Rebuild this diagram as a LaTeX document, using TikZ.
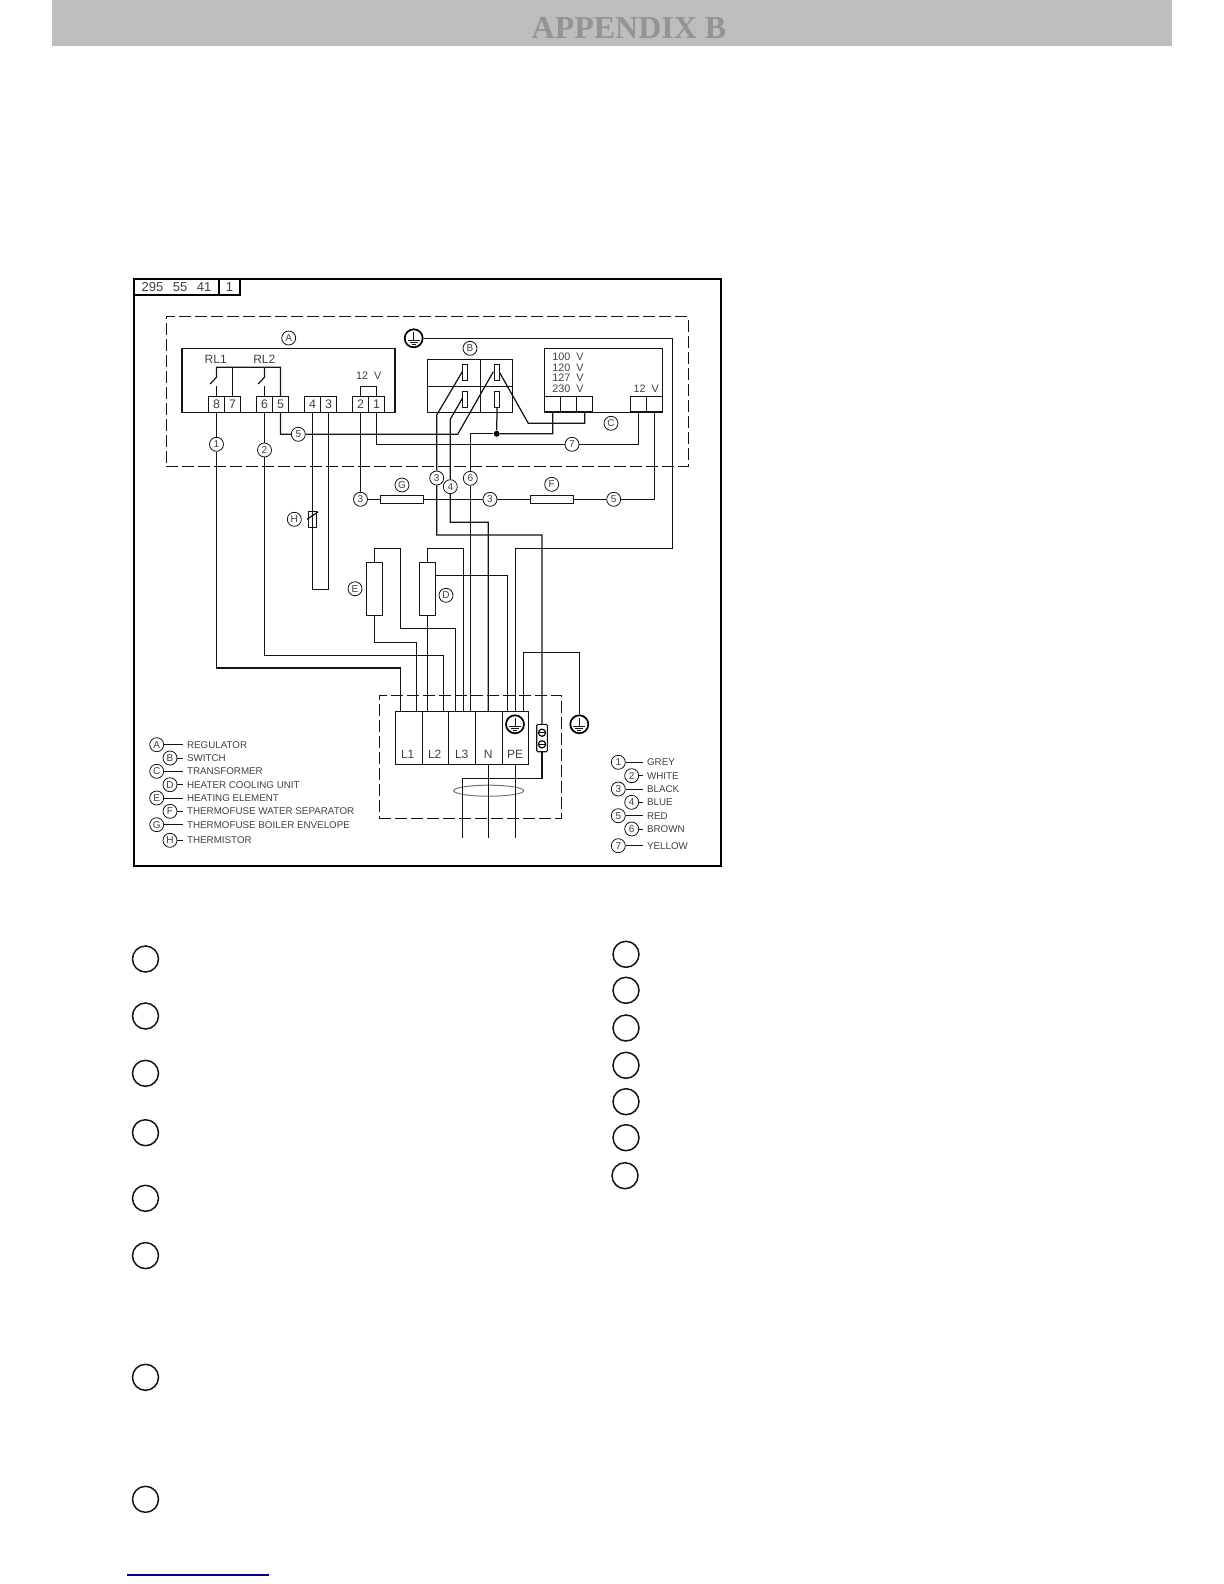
\documentclass[tikz,border=0pt]{standalone}
\usepackage{fontspec}
\newfontfamily\cad{Liberation Sans}
\newfontfamily\headfont{Liberation Serif}
\usetikzlibrary{calc,shapes.geometric}
\definecolor{inkc}{gray}{0.08}
\definecolor{txtc}{gray}{0.25}
\tikzset{
  wire/.style={draw=inkc,line width=0.62pt},
  frameline/.style={draw=black,line width=0.95pt},
  dashbox/.style={draw=inkc,line width=0.5pt,dash pattern=on 6pt off 2pt},
  lbl/.style={circle,draw=inkc,line width=0.4pt,minimum size=7pt,inner sep=0pt,text=txtc,font=\cad\fontsize{5}{5}\selectfont},
  term/.style={rectangle,draw=inkc,line width=0.55pt,minimum width=8pt,minimum height=7.7pt,inner sep=0pt,text=txtc,font=\cad\fontsize{6.2}{6.2}\selectfont},
  blockbox/.style={rectangle,draw=inkc,line width=0.55pt,inner sep=0pt},
  slot/.style={rectangle,draw=inkc,line width=0.5pt,minimum width=2.7pt,minimum height=8pt,inner sep=0pt},
  fuse/.style={rectangle,draw=inkc,line width=0.5pt,minimum width=21.7pt,minimum height=4pt,inner sep=0pt},
  heater/.style={rectangle,draw=inkc,line width=0.55pt,minimum width=8.2pt,minimum height=26.5pt,inner sep=0pt},
  cell/.style={rectangle,draw=inkc,line width=0.55pt,minimum height=26.5pt,inner sep=0pt},
  caption/.style={text=txtc,inner sep=0pt,font=\cad\fontsize{6}{6}\selectfont},
  volts/.style={text=txtc,inner sep=0pt,font=\cad\fontsize{5.4}{5.4}\selectfont},
  legtext/.style={anchor=west,text=txtc,inner sep=1.7pt,font=\cad\fontsize{4.9}{4.9}\selectfont},
  earth/.style={circle,draw=black,line width=0.85pt,minimum size=9pt,inner sep=0pt},
  callout/.style={circle,draw=inkc,line width=0.75pt,minimum size=13pt,inner sep=0pt},
  dot/.style={circle,fill=black,minimum size=3pt,inner sep=0pt},
}
\newcommand{\earthmark}[1]{%
  \draw[line width=0.5pt,draw=inkc] ([shift={(0,-6)}]#1.center) -- ([shift={(0,2.5)}]#1.center)
    ([shift={(-6,2.5)}]#1.center) -- ([shift={(6,2.5)}]#1.center)
    ([shift={(-4,4.5)}]#1.center) -- ([shift={(4,4.5)}]#1.center)
    ([shift={(-2,6.5)}]#1.center) -- ([shift={(2,6.5)}]#1.center);}
\begin{document}
\begin{tikzpicture}[x=0.5pt,y=-0.5pt]
\path[use as bounding box] (0,0) rectangle (1224,1584);

% header band
\node[rectangle,fill=black!26,minimum width=559.8pt,minimum height=23pt,inner sep=0pt] (band) at (612.2,23) {};
\node[text=black!42,inner sep=0pt,font=\headfont\bfseries\fontsize{16}{16}\selectfont] (head) at (629,28) {APPENDIX B};

% outer frame + title block
\node[rectangle,frameline,minimum width=293.5pt,minimum height=293.5pt,inner sep=0pt] (outer) at (427.5,572.5) {};
\node[rectangle,frameline,minimum width=42.5pt,minimum height=8pt,inner sep=0pt,text=txtc,font=\cad\fontsize{6.5}{6.5}\selectfont] (tb1) at (176.5,287) {295\hspace{3pt} 55\hspace{3pt} 41};
\node[rectangle,frameline,minimum width=10.5pt,minimum height=8pt,inner sep=0pt,text=txtc,font=\cad\fontsize{6.5}{6.5}\selectfont] (tb2) at (229.5,287) {1};

% dashed enclosures
\node[rectangle,dashbox,minimum width=261pt,minimum height=74.7pt,inner sep=0pt] (dashA) at (427,391.3) {};
\node[rectangle,dashbox,minimum width=91.2pt,minimum height=61.5pt,inner sep=0pt] (dashT) at (470.5,756.8) {};

% regulator
\node[blockbox,minimum width=106.5pt,minimum height=31.7pt] (reg) at (288.5,380.4) {};
\node[lbl] (la) at (288.7,338) {A};
\node[term] (t8) at (216.5,404.4) {8};
\node[term] (t7) at (232.5,404.4) {7};
\node[term] (t6) at (264.5,404.4) {6};
\node[term] (t5) at (280.5,404.4) {5};
\node[term] (t4) at (312.5,404.4) {4};
\node[term] (t3) at (328.5,404.4) {3};
\node[term] (t2) at (360.5,404.4) {2};
\node[term] (t1) at (376.5,404.4) {1};
\node[caption] (rl1) at (215.7,359.3) {RL1};
\node[caption] (rl2) at (264.3,359.3) {RL2};
\node[volts] (v12a) at (368.7,375.3) {12\hspace{1.5pt} V};
% relay contacts
\coordinate (rlA) at (216.5,367.3);
\coordinate (rlB) at (280.5,367.3);
\coordinate (rlM) at (232.5,367.3);
\coordinate (rlC) at (264.5,367.3);
\draw[wire] (t8.north) -- (216.5,386);
\draw[wire] (210,384) -- (216.5,377.3) -- (rlA) -- (rlB) -- (t5.north);
\draw[wire] (rlM) -- (t7.north);
\draw[wire] (t6.north) -- (264.5,386);
\draw[wire] (258,384) -- (264.5,377.3) -- (rlC);
\draw[wire] (t2.north) |- (376.5,386.7) -- (t1.north);

% earth top
\node[earth] (e1) at (413.7,338.3) {};
\earthmark{e1}

% switch B
\node[blockbox,minimum width=42.5pt,minimum height=26.4pt] (swb) at (469.8,385.7) {};
\draw[wire,line width=0.55pt] (swb.north) ++(10.5,0) coordinate (swbt) -- (swbt |- swb.south);
\draw[wire,line width=0.55pt] (swb.west) ++(0,0.6) coordinate (swbl) -- (swbl -| swb.east);
\node[lbl] (lb) at (470,348.3) {B};
\node[slot] (s1) at (465,372.7) {};
\node[slot] (s2) at (465,399.3) {};
\node[slot] (s3) at (497,372.7) {};
\node[slot] (s4) at (497,399.3) {};

% transformer C
\node[blockbox,minimum width=58.8pt,minimum height=31.7pt] (trf) at (603.5,380.4) {};
\node[lbl] (lc) at (611,423.3) {C};
\node[term] (tc1) at (552.7,404.2) {};
\node[term] (tc2) at (568.7,404.2) {};
\node[term] (tc3) at (584.7,404.2) {};
\node[term] (tc4) at (638.5,404.2) {};
\node[term] (tc5) at (654.5,404.2) {};
\node[volts] (v1) at (568,356.7) {100\hspace{1.5pt} V};
\node[volts] (v2) at (568,367.3) {120\hspace{1.5pt} V};
\node[volts] (v3) at (568,377.7) {127\hspace{1.5pt} V};
\node[volts] (v4) at (568,388.7) {230\hspace{1.5pt} V};
\node[volts] (v5) at (646.3,388.7) {12\hspace{1.5pt} V};

% wire circles
\node[lbl] (c1) at (216.5,444.3) {1};
\node[lbl] (c2) at (264.5,450) {2};
\node[lbl] (c5a) at (298.3,434.3) {5};
\node[lbl] (c7) at (572,444.3) {7};
\node[lbl] (c3a) at (360.5,499.3) {3};
\node[lbl] (c3b) at (490,499.3) {3};
\node[lbl] (c5b) at (613.7,499.3) {5};
\node[lbl] (c3c) at (436.7,478) {3};
\node[lbl] (c4) at (450.3,486.7) {4};
\node[lbl] (c6) at (470.3,478.3) {6};

% fuses
\node[fuse] (fg) at (402,499.3) {};
\node[fuse] (ff) at (552,499.3) {};
\node[lbl] (lg) at (402,485) {G};
\node[lbl] (lf) at (551.7,484.3) {F};

% thermistor
\node[rectangle,draw=inkc,line width=0.55pt,minimum width=4pt,minimum height=8.1pt,inner sep=0pt] (th) at (312.5,519.2) {};
\node[lbl] (lh) at (294.3,519.3) {H};
\draw[wire] (307,519.3) -- (318.3,511.7);

% heaters
\node[heater] (he) at (374.5,588.8) {};
\node[heater] (hd) at (427.5,588.8) {};
\node[lbl] (le) at (355,588.7) {E};
\node[lbl] (ld) at (446,595.3) {D};

% terminal block
\node[cell,minimum width=13.5pt] (L1) at (408.8,737.8) {};
\node[cell,minimum width=13.2pt] (L2) at (435.5,737.8) {};
\node[cell,minimum width=13.5pt] (L3) at (462.2,737.8) {};
\node[cell,minimum width=13.5pt] (Ln) at (489.2,737.8) {};
\node[cell,minimum width=13pt] (Lp) at (515.7,737.8) {};
\node[caption] (tl1) at (407.7,754.3) {L1};
\node[caption] (tl2) at (434.7,754.3) {L2};
\node[caption] (tl3) at (461.7,754.3) {L3};
\node[caption] (tln) at (488.3,754.3) {N};
\node[caption] (tlp) at (515,754.3) {PE};
\node[earth] (e2) at (515,724.3) {};
\earthmark{e2}
\node[earth] (e3) at (579.3,724.3) {};
\earthmark{e3}

% small connector
\node[rectangle,draw=inkc,line width=0.55pt,rounded corners=0.6pt,minimum width=5.3pt,minimum height=13.7pt,inner sep=0pt] (conn) at (542,738) {};
\node[circle,draw=black,line width=0.6pt,minimum size=3.6pt,inner sep=0pt] (k1) at (542,732.7) {};
\node[circle,draw=black,line width=0.6pt,minimum size=3.6pt,inner sep=0pt] (k2) at (542,744.3) {};
\draw[black,line width=0.5pt] (k1.west) -- (k1.east) (k2.west) -- (k2.east);

% cable ring
\node[ellipse,draw=black!55,line width=0.5pt,minimum width=35pt,minimum height=5.5pt,inner sep=0pt] (ring) at (488.7,790.7) {};

% wires
\draw[wire] (t8.south) -- (c1) -- (216.5,668) -- (400.7,668) -- (400.7,711.3);
\draw[wire] (t6.south) -- (c2) -- (264.5,655.7) -- (443.3,655.7) -- (443.3,711.3);
\draw[wire] (t5.south) |- (c5a) -- (457.7,434.3) -- (493.3,371.7);
\draw[wire] (t4.south) |- (328.5,589.3) -- (t3.south);
\draw[wire] (t2.south) -- (c3a) -- (fg) -- (c3b) -- (ff) -- (c5b) -| (tc5.south);
\draw[wire] (t1.south) |- (c7) -| (tc4.south);
\draw[wire] (e1) -- (672.3,338.3) -- (672.3,548.5) -- (515.5,548.5) -- (515.5,711.3);
\draw[wire] (462.3,371.7) -- (436.7,415) -- (c3c) -- (436.7,535) -- (542,535) -- (conn.north);
\draw[wire] (462.3,398.3) -- (450.3,419.3) -- (c4) -- (450.3,522.3) -- (488.3,522.3) -- (488.3,711.3);
\node[dot] (jn) at (496.7,433.8) {};
\draw[wire] (tc1.south) |- (jn) -- (s4.south);
\draw[wire] (jn) -- (470.3,433.8) -- (c6) -- (470.3,711.3);
\draw[wire] (499.7,372.7) -- (528.3,423.3) -| (tc3.south);
\draw[wire] (he.north) |- (400.7,548.3) -- (400.7,628.3) -- (455.7,628.3) -- (455.7,711.3);
\draw[wire] (he.south) |- (416.7,642.3) -- (416.7,711.3);
\draw[wire] (hd.north) |- (463.3,548.3) -- (463.3,711.3);
\draw[wire] (hd.south) -- (427.5,711.3);
\draw[wire] (hd.east |- 0,575.3) -- (507.3,575.3) -- (507.3,711.3);
\draw[wire] (523.7,711.3) -- (523.7,652.7) -| (e3.north);
\draw[wire] (conn.south) |- (462.3,778.3) -- (462.3,838.3);
\draw[wire] (488.3,764.3) -- (488.3,838.3);
\draw[wire] (515.3,764.3) -- (515.3,838.3);

% legend left
\foreach \nm/\ltr/\cx/\cy/\txt in {
  a/A/156.7/744.7/REGULATOR,
  b/B/170/758/SWITCH,
  c/C/156.7/771.3/TRANSFORMER,
  d/D/170/784.7/HEATER COOLING UNIT,
  e/E/156.7/798/HEATING ELEMENT,
  f/F/170/811.3/THERMOFUSE WATER SEPARATOR,
  g/G/156.7/824.7/THERMOFUSE BOILER ENVELOPE,
  h/H/170/840.3/THERMISTOR}{
  \node[lbl] (lk\nm) at (\cx,\cy) {\ltr};
  \node[legtext] (lt\nm) at (183.3,\cy) {\txt};
  \draw[wire,line width=0.45pt] (lk\nm) -- (lt\nm.west);
}
% legend right
\foreach \nm/\ltr/\cx/\cy/\txt in {
  1/1/618.3/762.3/GREY,
  2/2/631.7/775.7/WHITE,
  3/3/618.3/789/BLACK,
  4/4/631.7/802.3/BLUE,
  5/5/618.3/815.7/RED,
  6/6/631.7/829/BROWN,
  7/7/618.3/845.7/YELLOW}{
  \node[lbl] (rk\nm) at (\cx,\cy) {\ltr};
  \node[legtext] (rt\nm) at (643.3,\cy) {\txt};
  \draw[wire,line width=0.45pt] (rk\nm) -- (rt\nm.west);
}

% empty callout circles
\foreach \i/\cx/\cy in {1/145.5/959,2/145.5/1016,3/145.5/1073.3,4/145.5/1132.7,5/145.5/1198.3,6/145.5/1255.6,7/145.5/1377.3,8/145.5/1499.3,
  9/626/954.3,10/626/990.3,11/626/1028,12/626/1065.3,13/626/1101.7,14/626/1137.7,15/625/1175.7}{
  \node[callout] (cal\i) at (\cx,\cy) {};
}
% blue rule
\coordinate (ruleL) at (127.3,1575);
\coordinate (ruleR) at (269,1575);
\draw[draw=blue!50!black,line width=0.7pt] (ruleL) -- (ruleR);
\end{tikzpicture}
\end{document}
